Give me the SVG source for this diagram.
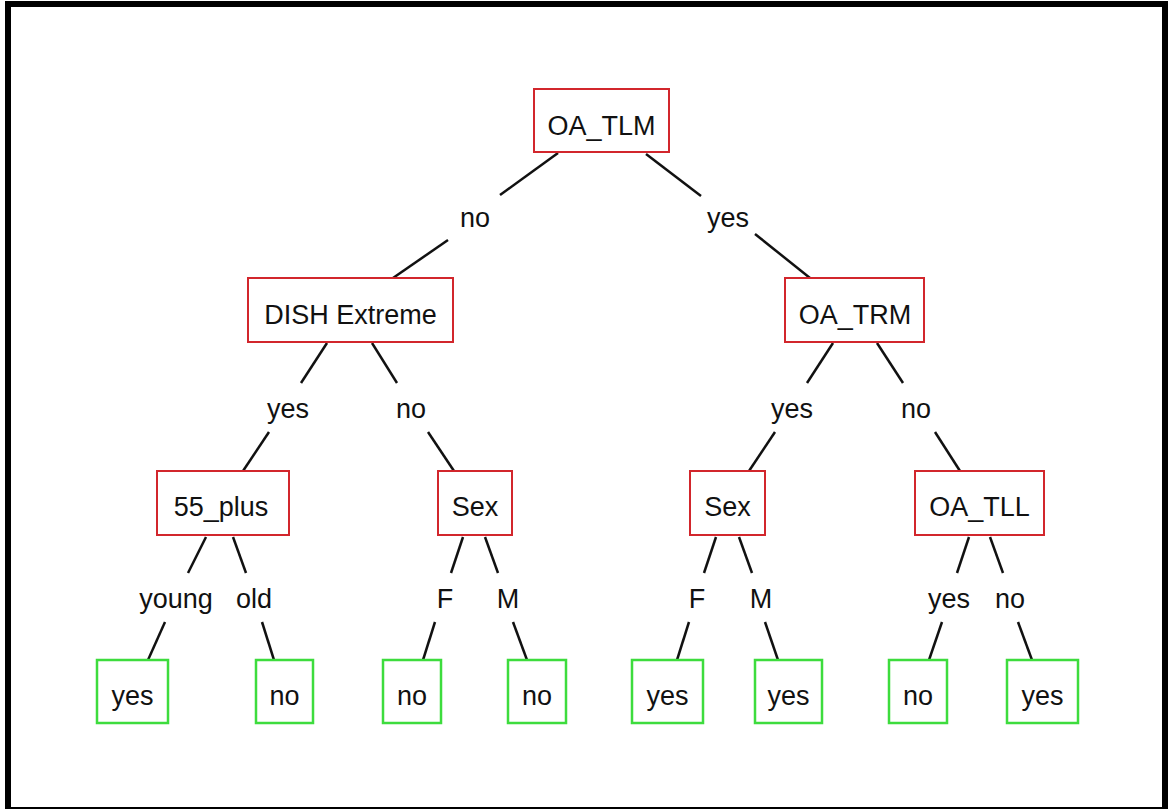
<svg xmlns="http://www.w3.org/2000/svg" width="1168" height="809" viewBox="0 0 1168 809">
  <style>
    text { font-family: "Liberation Sans", Arial, sans-serif; font-size: 27px; fill: #111; text-anchor: middle; }
    .split { fill: #fff; stroke: #d2262c; stroke-width: 2; }
    .leaf { fill: #fff; stroke: #3ddc3d; stroke-width: 2.5; }
    .edges line { stroke: #111; stroke-width: 2.5; stroke-linecap: butt; }
  </style>

  <!-- frame -->
  <rect x="0" y="0" width="1168" height="809" fill="#fff"/>
  <rect x="8" y="4" width="1157" height="806" fill="none" stroke="#000" stroke-width="6"/>

  <!-- branches with their labels -->
  <g id="edges" class="edges">
    <line x1="558" y1="153" x2="500" y2="195"/>
    <line x1="448" y1="240" x2="393" y2="278"/>
    <text x="475" y="227">no</text>
    <line x1="646" y1="154" x2="701" y2="196"/>
    <line x1="755" y1="234" x2="810" y2="278"/>
    <text x="728" y="227">yes</text>

    <line x1="327" y1="343" x2="301" y2="383"/>
    <line x1="269" y1="432" x2="243" y2="471"/>
    <text x="288" y="418">yes</text>
    <line x1="372" y1="343" x2="397" y2="383"/>
    <line x1="428" y1="432" x2="454" y2="471"/>
    <text x="411" y="418">no</text>

    <line x1="833" y1="343" x2="807" y2="383"/>
    <line x1="775" y1="432" x2="749" y2="471"/>
    <text x="792" y="418">yes</text>
    <line x1="877" y1="343" x2="903" y2="383"/>
    <line x1="935" y1="432" x2="960" y2="471"/>
    <text x="916" y="418">no</text>

    <line x1="206" y1="537" x2="188" y2="573"/>
    <line x1="165" y1="622" x2="148" y2="660"/>
    <text x="176" y="608">young</text>
    <line x1="233" y1="537" x2="246" y2="573"/>
    <line x1="262" y1="622" x2="274" y2="660"/>
    <text x="254" y="608">old</text>

    <line x1="463" y1="537" x2="451" y2="573"/>
    <line x1="435" y1="622" x2="423" y2="660"/>
    <text x="445" y="608">F</text>
    <line x1="485" y1="537" x2="498" y2="573"/>
    <line x1="513" y1="622" x2="527" y2="660"/>
    <text x="508" y="608">M</text>

    <line x1="716" y1="537" x2="704" y2="573"/>
    <line x1="689" y1="622" x2="677" y2="660"/>
    <text x="697" y="608">F</text>
    <line x1="739" y1="537" x2="752" y2="573"/>
    <line x1="765" y1="622" x2="778" y2="660"/>
    <text x="761" y="608">M</text>

    <line x1="969" y1="537" x2="957" y2="573"/>
    <line x1="942" y1="622" x2="929" y2="660"/>
    <text x="949" y="608">yes</text>
    <line x1="990" y1="537" x2="1003" y2="573"/>
    <line x1="1018" y1="622" x2="1032" y2="660"/>
    <text x="1010" y="608">no</text>
  </g>

  <!-- decision nodes -->
  <g id="oa-tlm"><rect class="split" x="534" y="89" width="135" height="63"/><text x="601.5" y="135">OA_TLM</text></g>
  <g id="dish-extreme"><rect class="split" x="248" y="278" width="205" height="64"/><text x="350.5" y="324">DISH Extreme</text></g>
  <g id="oa-trm"><rect class="split" x="785" y="278" width="139" height="64"/><text x="855" y="324">OA_TRM</text></g>
  <g id="age-55-plus"><rect class="split" x="157" y="471" width="132" height="64"/><text x="221" y="516">55_plus</text></g>
  <g id="sex-left"><rect class="split" x="438" y="471" width="74" height="64"/><text x="475" y="516">Sex</text></g>
  <g id="sex-right"><rect class="split" x="690" y="471" width="75" height="64"/><text x="727.5" y="516">Sex</text></g>
  <g id="oa-tll"><rect class="split" x="915" y="471" width="129" height="64"/><text x="979.5" y="516">OA_TLL</text></g>

  <!-- outcome leaves -->
  <g id="leaf-1"><rect class="leaf" x="97" y="660" width="71" height="63"/><text x="132.5" y="705">yes</text></g>
  <g id="leaf-2"><rect class="leaf" x="256" y="660" width="57" height="63"/><text x="284.5" y="705">no</text></g>
  <g id="leaf-3"><rect class="leaf" x="383" y="660" width="58" height="63"/><text x="412" y="705">no</text></g>
  <g id="leaf-4"><rect class="leaf" x="508" y="660" width="58" height="63"/><text x="537" y="705">no</text></g>
  <g id="leaf-5"><rect class="leaf" x="632" y="660" width="71" height="63"/><text x="667.5" y="705">yes</text></g>
  <g id="leaf-6"><rect class="leaf" x="755" y="660" width="67" height="63"/><text x="788.5" y="705">yes</text></g>
  <g id="leaf-7"><rect class="leaf" x="889" y="660" width="58" height="63"/><text x="918" y="705">no</text></g>
  <g id="leaf-8"><rect class="leaf" x="1007" y="660" width="71" height="63"/><text x="1042.5" y="705">yes</text></g>
</svg>
